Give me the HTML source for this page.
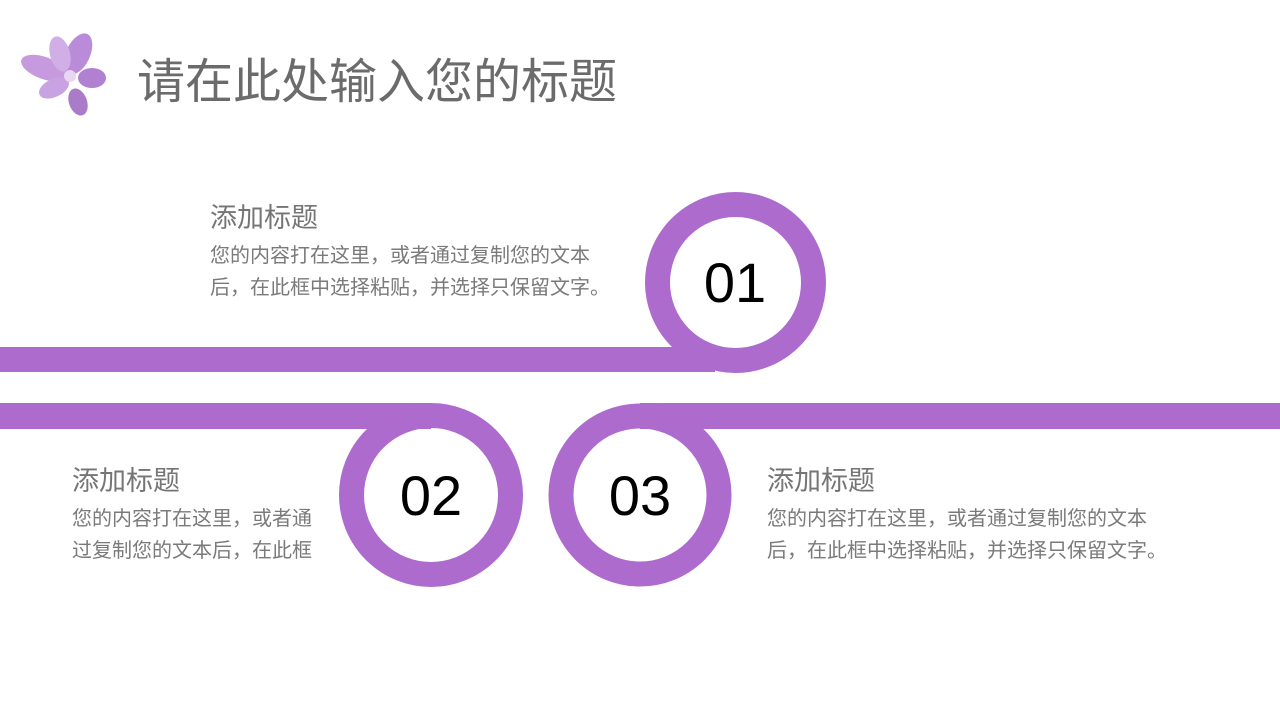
<!DOCTYPE html>
<html><head><meta charset="utf-8"><style>
html,body{margin:0;padding:0;background:#fff;}
body{width:1280px;height:720px;position:relative;overflow:hidden;font-family:"Liberation Sans","Noto Sans CJK SC",sans-serif;}
.t{position:absolute;white-space:nowrap;color:#757575;}
.h{font-size:27px;}
.b{font-size:20px;line-height:32px;color:#7a7a7a;}
.n{position:absolute;font-size:56px;color:#000;text-align:center;width:140px;line-height:60px;}
</style></head><body>
<svg width="1280" height="720" style="position:absolute;left:0;top:0">
<g fill="#ad6bce">
<rect x="0" y="347" width="715" height="25"/>
<rect x="0" y="403" width="431" height="26"/>
<rect x="640" y="403" width="640" height="26"/>
</g>
<g fill="none" stroke="#ad6bce" stroke-width="25">
<circle cx="735.5" cy="282.5" r="78"/>
<circle cx="431" cy="495" r="79.5"/>
<circle cx="640" cy="495" r="79"/>
</g>
<g transform="translate(64,76)">
<ellipse cx="-20" cy="-8" rx="24" ry="11" fill="#c79ae0" transform="rotate(20 -20 -8)"/>
<ellipse cx="14" cy="-22" rx="12" ry="22" fill="#b98bd8" transform="rotate(25 14 -22)"/>
<ellipse cx="-4" cy="-22" rx="10" ry="18" fill="#d1aee6" transform="rotate(-15 -4 -22)"/>
<ellipse cx="28" cy="2" rx="14" ry="10" fill="#b180d2"/>
<ellipse cx="14" cy="26" rx="9" ry="14" fill="#a97bc8" transform="rotate(-20 14 26)"/>
<ellipse cx="-10" cy="12" rx="16" ry="9" fill="#c9a2e2" transform="rotate(-25 -10 12)"/>
<circle cx="6" cy="0" r="6" fill="#e8d6f2"/>
</g>
</svg>
<div class="t" style="left:137px;top:42px;font-size:48px;color:#6b6b6b;">请在此处输入您的标题</div>
<div class="t h" style="left:210px;top:196px;">添加标题</div>
<div class="t b" style="left:210px;top:240px;">您的内容打在这里，或者通过复制您的文本<br>后，在此框中选择粘贴，并选择只保留文字。</div>
<div class="t h" style="left:72px;top:459px;">添加标题</div>
<div class="t b" style="left:72px;top:503px;">您的内容打在这里，或者通<br>过复制您的文本后，在此框</div>
<div class="t h" style="left:767px;top:459px;">添加标题</div>
<div class="t b" style="left:767px;top:503px;">您的内容打在这里，或者通过复制您的文本<br>后，在此框中选择粘贴，并选择只保留文字。</div>
<div class="n" style="left:665px;top:253px;">01</div>
<div class="n" style="left:361px;top:466px;">02</div>
<div class="n" style="left:570px;top:466px;">03</div>
</body></html>
